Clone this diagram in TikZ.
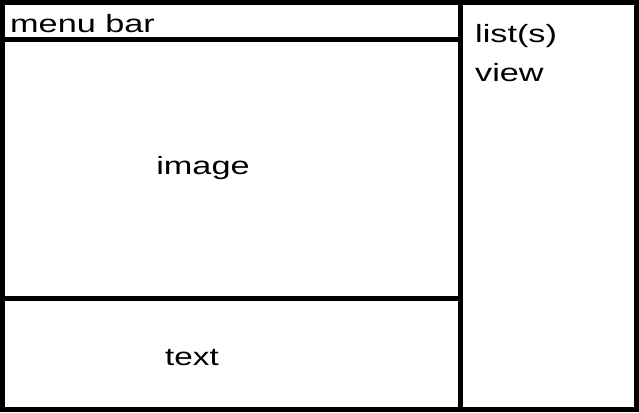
\documentclass[tikz,border=0pt]{standalone}
\usepackage{fontspec}
\setmainfont{Liberation Sans}
\begin{document}
\begin{tikzpicture}[x=1pt,y=1pt,
  frame/.style={line width=5pt,draw=black},
  lbl/.style={inner sep=0pt,font=\fontsize{25}{29}\selectfont}]
\useasboundingbox (0,0) rectangle (639,412);
\fill[white] (0,0) rectangle (639,412);
% outer frame
\draw[frame] (2.5,2.5) rectangle (636.5,409.5);
% vertical divider
\draw[frame] (460,2.5) -- (460,409.5);
% menu bar line
\draw[frame] (2.5,372.5) -- (460,372.5);
% text area line
\draw[frame] (2.5,113.5) -- (460,113.5);
% labels
\node[lbl,anchor=base west] (menu) at (10,379) {\scalebox{1.37}[1]{menu bar}};
\node[lbl,anchor=base] (image) at (203,237) {\scalebox{1.37}[1]{image}};
\node[lbl,anchor=base] (text) at (192,47) {\scalebox{1.33}[1]{text}};
\node[lbl,anchor=base west] (list) at (475,369) {\scalebox{1.37}[1]{list(s)}};
\node[lbl,anchor=base west] (view) at (475,330) {\scalebox{1.37}[1]{view}};
\end{tikzpicture}
\end{document}
